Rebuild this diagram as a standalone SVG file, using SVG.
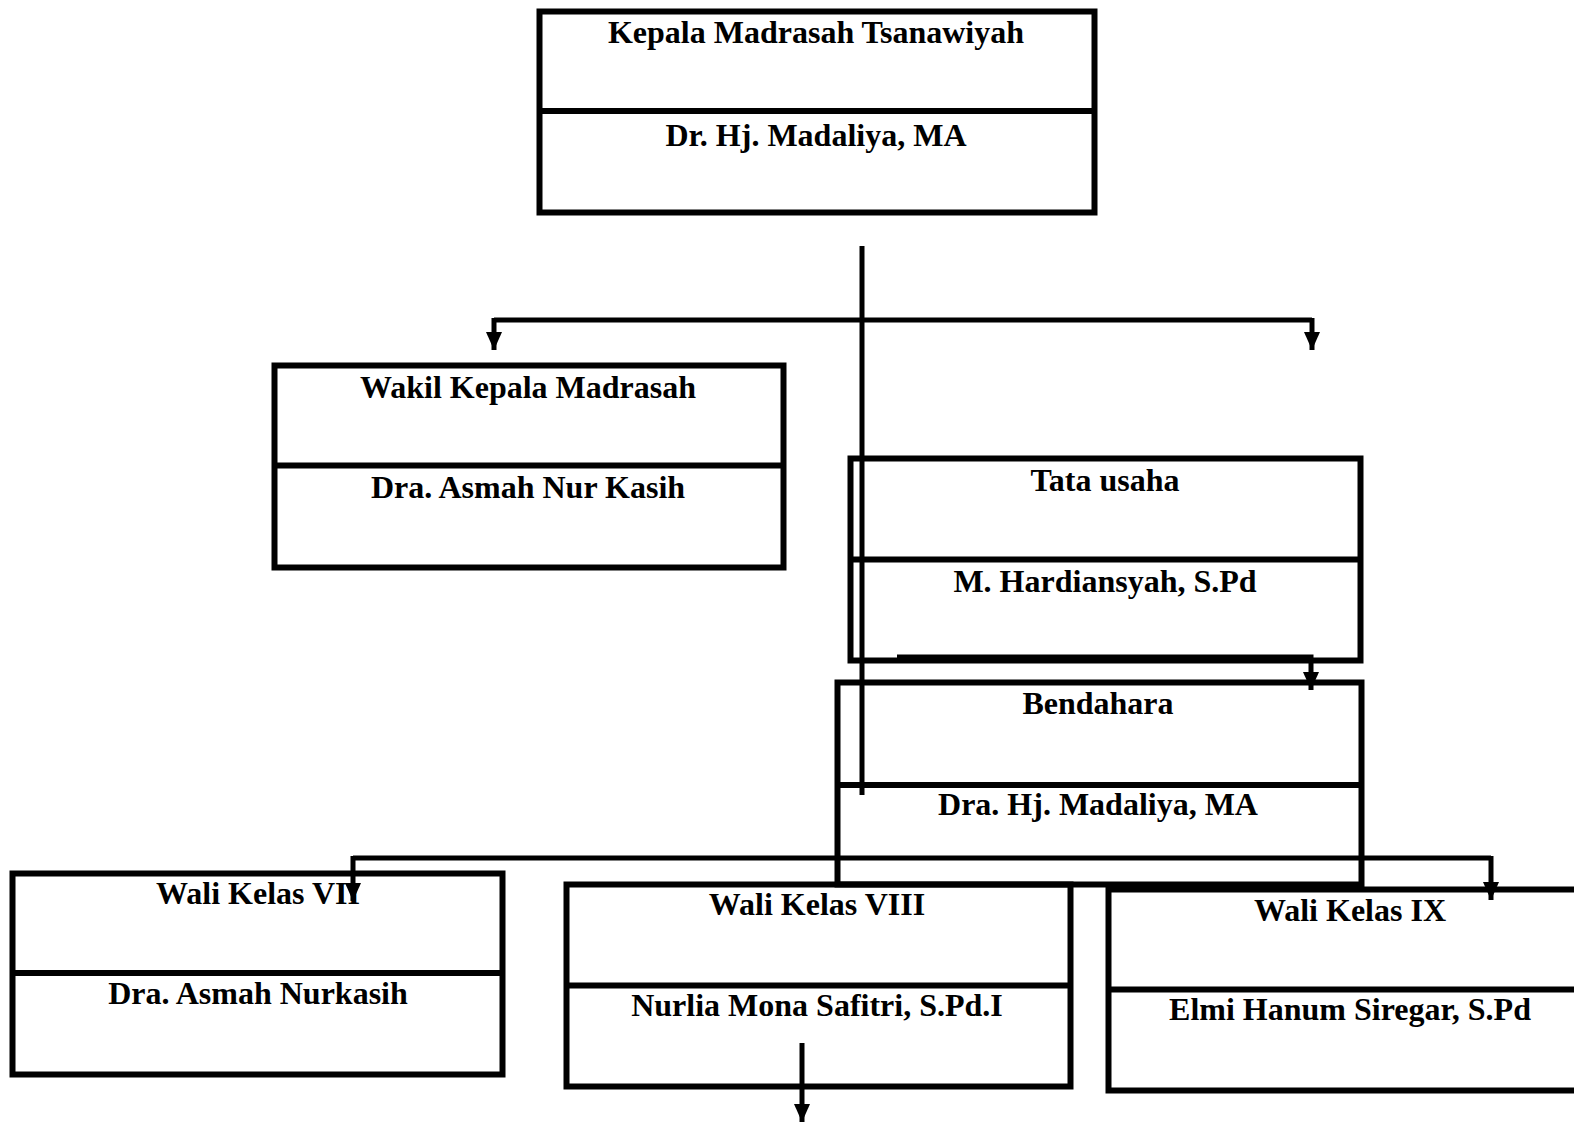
<svg xmlns="http://www.w3.org/2000/svg" width="1574" height="1122" viewBox="0 0 1574 1122">
<style>
.box{fill:none;stroke:#000;stroke-width:6}
.div{stroke:#000;stroke-width:6}
.t{font-family:"Liberation Serif","Times New Roman",serif;font-weight:bold;font-size:32px;fill:#000;text-anchor:middle}
.c{fill:none;stroke:#000;stroke-width:5}
</style>
<defs>
<marker id="ah" markerUnits="userSpaceOnUse" markerWidth="20" markerHeight="20" refX="18" refY="9" orient="auto" viewBox="0 0 20 20">
<path d="M0,1 L18,9 L0,17 z" fill="#000"/>
</marker>
</defs>
<rect width="1574" height="1122" fill="#fff"/>
<g id="kepala">
<rect class="box" x="539.5" y="11.5" width="555" height="201"/>
<line class="div" x1="539.5" y1="111" x2="1094.5" y2="111"/>
<text class="t" x="816" y="43">Kepala Madrasah Tsanawiyah</text>
<text class="t" x="816" y="146">Dr. Hj. Madaliya, MA</text>
</g>
<g id="wakil">
<rect class="box" x="274.5" y="365.5" width="509" height="202"/>
<line class="div" x1="274.5" y1="465.5" x2="783.5" y2="465.5"/>
<text class="t" x="528" y="398">Wakil Kepala Madrasah</text>
<text class="t" x="528" y="498">Dra. Asmah Nur Kasih</text>
</g>
<g id="tatausaha">
<rect class="box" x="850.5" y="458.5" width="510" height="202"/>
<line class="div" x1="850.5" y1="559.5" x2="1360.5" y2="559.5"/>
<text class="t" x="1105" y="491">Tata usaha</text>
<text class="t" x="1105" y="592">M. Hardiansyah, S.Pd</text>
</g>
<g id="bendahara">
<rect class="box" x="837.5" y="682.5" width="524" height="202"/>
<line class="div" x1="837.5" y1="785" x2="1361.5" y2="785"/>
<text class="t" x="1098" y="714">Bendahara</text>
<text class="t" x="1098" y="815">Dra. Hj. Madaliya, MA</text>
</g>
<g id="wali7">
<rect class="box" x="12.5" y="873.5" width="490" height="201"/>
<line class="div" x1="12.5" y1="973" x2="502.5" y2="973"/>
<text class="t" x="258" y="904">Wali Kelas VII</text>
<text class="t" x="258" y="1004">Dra. Asmah Nurkasih</text>
</g>
<g id="wali8">
<rect class="box" x="566.5" y="884.5" width="504" height="202"/>
<line class="div" x1="566.5" y1="985.5" x2="1070.5" y2="985.5"/>
<text class="t" x="817" y="915">Wali Kelas VIII</text>
<text class="t" x="817" y="1016">Nurlia Mona Safitri, S.Pd.I</text>
</g>
<g id="wali9">
<rect class="box" x="1108.5" y="889.5" width="520" height="201"/>
<line class="div" x1="1108.5" y1="989.5" x2="1574" y2="989.5"/>
<text class="t" x="1350" y="921">Wali Kelas IX</text>
<text class="t" x="1350" y="1020">Elmi Hanum Siregar, S.Pd</text>
</g>
<g id="connectors">
<path class="c" d="M862,246 V795"/>
<path class="c" d="M494,320 H1312"/>
<path class="c" d="M494,318 V350" marker-end="url(#ah)"/>
<path class="c" d="M1312,318 V350" marker-end="url(#ah)"/>
<path class="c" d="M897,657 H1311 V690" marker-end="url(#ah)"/>
<path class="c" d="M353,858 H1491"/>
<path class="c" d="M353,856 V901" marker-end="url(#ah)"/>
<path class="c" d="M1491,856 V900" marker-end="url(#ah)"/>
<path class="c" d="M802,1043 V1122" marker-end="url(#ah)"/>
</g>
</svg>
